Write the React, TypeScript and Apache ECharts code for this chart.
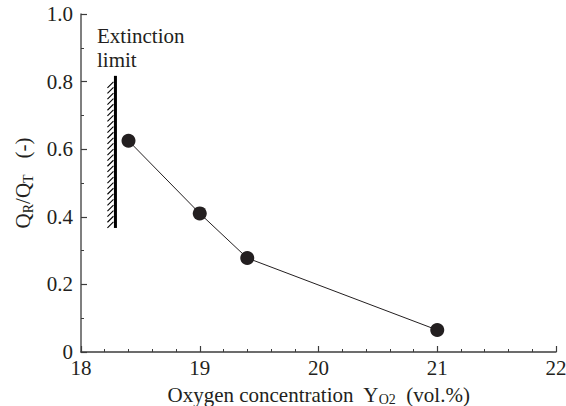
import React, { useEffect, useRef } from "react";
import * as echarts from "echarts";

// Oxygen concentration (vol.%) and the radiative heat-loss fraction Q_R/Q_T
const oxygen = [18.4, 19.0, 19.4, 21.0];
const heatRatio = [0.625, 0.41, 0.278, 0.065];

// Extinction limit: oxygen level and the vertical extent of its marker
const extinctionOxygen = 18.29;
const extinctionRange = [0.367, 0.817];

const xTicks = [18, 19, 20, 21, 22];
const yTicks = [0, 0.2, 0.4, 0.6, 0.8, 1.0];

const FONT = "Liberation Serif";
const INK = "#231f20";

export default function App() {
  const ref = useRef<HTMLDivElement>(null);

  useEffect(() => {
    if (!ref.current) return;
    const chart = echarts.init(ref.current, undefined, { renderer: "svg" });

    const normal = { fontFamily: FONT, fontSize: 21, color: INK, lineHeight: 24 };
    const sub = {
      fontFamily: FONT,
      fontSize: 14,
      color: INK,
      lineHeight: 24,
      verticalAlign: "top" as const,
      padding: [10, 0, 0, 0],
    };

    chart.setOption({
      animation: false,
      backgroundColor: "#ffffff",
      grid: {
        left: 81,
        right: 10,
        top: 14,
        bottom: 54,
        containLabel: false,
        outerBoundsMode: "none",
      },
      xAxis: {
        type: "value",
        min: xTicks[0],
        max: xTicks[xTicks.length - 1],
        interval: 1,
        name: "{n|Oxygen concentration  Y}{s|O2}{n|  (vol.%)}",
        nameLocation: "middle",
        nameGap: 28,
        nameTextStyle: { rich: { n: normal, s: sub } },
        axisLine: { onZero: false, lineStyle: { color: "#3c3c3c", width: 1.5 } },
        axisTick: { inside: true, length: 6, lineStyle: { color: "#3c3c3c", width: 1.2 } },
        minorTick: { show: true, splitNumber: 5, length: 3, lineStyle: { color: "#3c3c3c", width: 1 } },
        splitLine: { show: false },
        axisLabel: {
          fontFamily: FONT,
          fontSize: 21,
          color: INK,
          margin: 5,
          formatter: (v: number) => String(v),
        },
      },
      yAxis: {
        type: "value",
        min: yTicks[0],
        max: yTicks[yTicks.length - 1],
        interval: 0.2,
        name: "{n|Q}{s|R}{n|/Q}{s|T}{n|   (-)}",
        nameLocation: "middle",
        nameRotate: 90,
        nameGap: 46,
        nameTextStyle: { rich: { n: normal, s: sub } },
        axisLine: { onZero: false, lineStyle: { color: "#555555", width: 1.5 } },
        axisTick: { inside: true, length: 6, lineStyle: { color: "#3c3c3c", width: 1.2 } },
        minorTick: { show: true, splitNumber: 2, length: 3, lineStyle: { color: "#3c3c3c", width: 1 } },
        splitLine: { show: false },
        axisLabel: {
          fontFamily: FONT,
          fontSize: 21,
          color: INK,
          margin: 8,
          formatter: (v: number) => (v === 0 ? "0" : v.toFixed(1)),
        },
      },
      graphic: [
        {
          type: "text",
          left: 97,
          top: 24,
          style: {
            text: "Extinction\nlimit",
            fontFamily: FONT,
            fontSize: 21,
            fill: INK,
            lineHeight: 24,
          },
        },
      ],
      series: [
        {
          type: "line",
          data: oxygen.map((x, i) => [x, heatRatio[i]]),
          symbol: "circle",
          symbolSize: 14,
          lineStyle: { color: INK, width: 1 },
          itemStyle: { color: INK },
          z: 3,
        },
        {
          type: "custom",
          clip: false,
          data: [[extinctionOxygen, extinctionRange[0], extinctionRange[1]]],
          renderItem: (_params: any, api: any) => {
            const x = api.value(0);
            const bottom = api.coord([x, api.value(1)]);
            const top = api.coord([x, api.value(2)]);
            const children: any[] = [
              {
                type: "line",
                shape: { x1: top[0], y1: top[1], x2: bottom[0], y2: bottom[1] },
                style: { stroke: "#000", lineWidth: 3 },
              },
            ];
            // hatching on the extinguished side of the limit
            for (let y = top[1] + 6; y <= bottom[1] - 1; y += 5.6) {
              children.push({
                type: "line",
                shape: { x1: top[0] - 2, y1: y, x2: top[0] - 8, y2: y + 6 },
                style: { stroke: "#000", lineWidth: 1.1 },
              });
            }
            return { type: "group", children };
          },
          z: 2,
        },
      ],
    });

    return () => chart.dispose();
  }, []);

  return (
    <div
      ref={ref}
      style={{ position: "absolute", left: 0, top: 0, width: 566, height: 406 }}
    />
  );
}
